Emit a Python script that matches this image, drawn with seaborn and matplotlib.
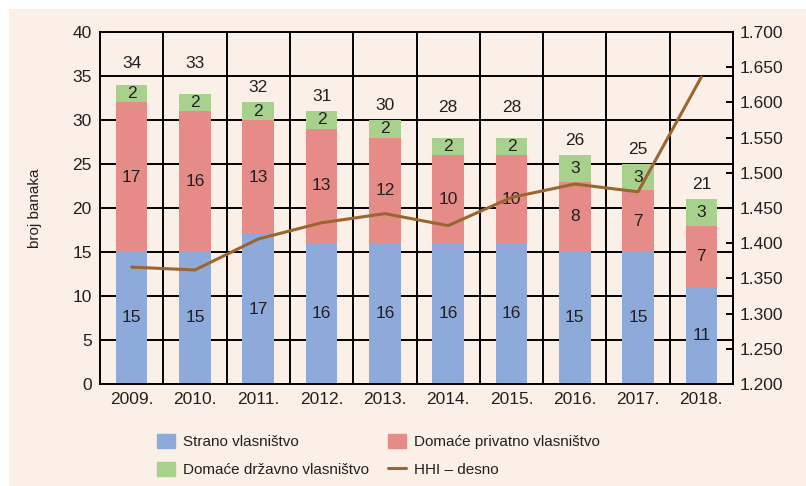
import matplotlib.pyplot as plt
import matplotlib.patches as mpatches
import matplotlib.lines as mlines
from matplotlib.ticker import FuncFormatter, FixedLocator
import numpy as np
import pandas as pd
import seaborn as sns

years = ["2009.", "2010.", "2011.", "2012.", "2013.", "2014.", "2015.", "2016.", "2017.", "2018."]
strano = [15, 15, 17, 16, 16, 16, 16, 15, 15, 11]
privatno = [17, 16, 13, 13, 12, 10, 10, 8, 7, 7]
drzavno = [2, 2, 2, 2, 2, 2, 2, 3, 3, 3]
hhi = [1366, 1362, 1406, 1429, 1442, 1425, 1465, 1484, 1473, 1636]

BG = "#fbf0e8"
C_BLUE = "#8eaadb"
C_PINK = "#e58c88"
C_GREEN = "#a9d18e"
C_LINE = "#9a6630"
TXT = "#231f20"

sns.set_style("white")
plt.rcParams["font.family"] = ["Liberation Sans Narrow", "Liberation Sans", "DejaVu Sans"]

df = pd.DataFrame({"godina": years, "strano": strano, "privatno": privatno, "drzavno": drzavno})
df["bot2"] = df["strano"] + df["privatno"]
df["total"] = df["bot2"] + df["drzavno"]

fig = plt.figure(figsize=(8.06, 4.86), dpi=100)
fig.patch.set_facecolor("white")
fig.patches.append(mpatches.Rectangle((9 / 806, 0), 1, 1 - 9 / 486, transform=fig.transFigure,
                                      facecolor=BG, edgecolor="none", zorder=-10))
ax = fig.add_axes([100 / 806, 1 - 384 / 486, 633 / 806, 352 / 486])
ax.set_facecolor(BG)

sns.barplot(data=df, x="godina", y="strano", color=C_BLUE, width=0.5, ax=ax,
            saturation=1, linewidth=0)
sns.barplot(data=df, x="godina", y="privatno", bottom=df["strano"], color=C_PINK, width=0.5,
            ax=ax, saturation=1, linewidth=0)
sns.barplot(data=df, x="godina", y="drzavno", bottom=df["bot2"], color=C_GREEN, width=0.5,
            ax=ax, saturation=1, linewidth=0)

ax.set_xlim(-0.5, 9.5)
ax.set_ylim(0, 40)
ax.set_yticks(range(0, 41, 5))
ax.xaxis.set_minor_locator(FixedLocator(np.arange(0.5, 9, 1)))
ax.grid(axis="y", which="major", color="black", linewidth=1.4)
ax.grid(axis="x", which="minor", color="black", linewidth=1.4)
ax.grid(axis="x", which="major", visible=False)
ax.set_axisbelow(True)
for s in ax.spines.values():
    s.set_color("black")
    s.set_linewidth(1.4)
ax.tick_params(axis="both", which="both", length=0, labelsize=12.5, colors=TXT, pad=6)
ax.set_xlabel("")
ax.set_ylabel("broj banaka", fontsize=11, color=TXT, labelpad=22)

for i, row in df.iterrows():
    ax.text(i, row["strano"] / 2, str(row["strano"]), ha="center", va="center", fontsize=12.5, color=TXT)
    ax.text(i, row["strano"] + row["privatno"] / 2, str(row["privatno"]), ha="center", va="center",
            fontsize=12.5, color=TXT)
    ax.text(i, row["bot2"] + row["drzavno"] / 2, str(row["drzavno"]), ha="center", va="center",
            fontsize=12.5, color=TXT)
    # totals sit just above the bar, nudged above a gridline if they would cross it
    ty = row["total"] + 1.7
    g = 5 * round(ty / 5)
    if abs(ty - g) < 1.0:
        ty = g + 1.4
    ax.text(i, ty, str(row["total"]), ha="center", va="center", fontsize=12.5, color=TXT)

ax2 = ax.twinx()
sns.lineplot(x=np.arange(len(years)), y=hhi, color=C_LINE, linewidth=2.2, ax=ax2)
ax2.set_ylim(1200, 1700)
ax2.set_yticks(range(1200, 1701, 50))
ax2.yaxis.set_major_formatter(FuncFormatter(lambda v, p: f"{v / 1000:.3f}"))
ax2.tick_params(axis="y", direction="in", length=5, width=1.4, labelsize=12.5, colors="black",
                labelcolor=TXT, pad=5)
ax2.set_ylabel("")
for s in ax2.spines.values():
    s.set_visible(False)
ax2.spines["right"].set_visible(True)
ax2.spines["right"].set_linewidth(1.4)
ax2.spines["right"].set_color("black")

col1 = [
    mpatches.Patch(color=C_BLUE, label="Strano vlasništvo"),
    mpatches.Patch(color=C_GREEN, label="Domaće državno vlasništvo"),
]
col2 = [
    mpatches.Patch(color=C_PINK, label="Domaće privatno vlasništvo"),
    mlines.Line2D([], [], color=C_LINE, linewidth=2.2, label="HHI – desno"),
]
leg_kw = dict(loc="upper left", frameon=False, fontsize=11, handlelength=1.2, handleheight=1.0,
              handletextpad=0.5, labelspacing=0.85, labelcolor=TXT, borderaxespad=0)
fig.legend(handles=col1, bbox_to_anchor=(151 / 806, 1 - 428 / 486), **leg_kw)
fig.legend(handles=col2, bbox_to_anchor=(382 / 806, 1 - 428 / 486), **leg_kw)

fig.savefig("out.png", dpi=100, facecolor=fig.get_facecolor())
